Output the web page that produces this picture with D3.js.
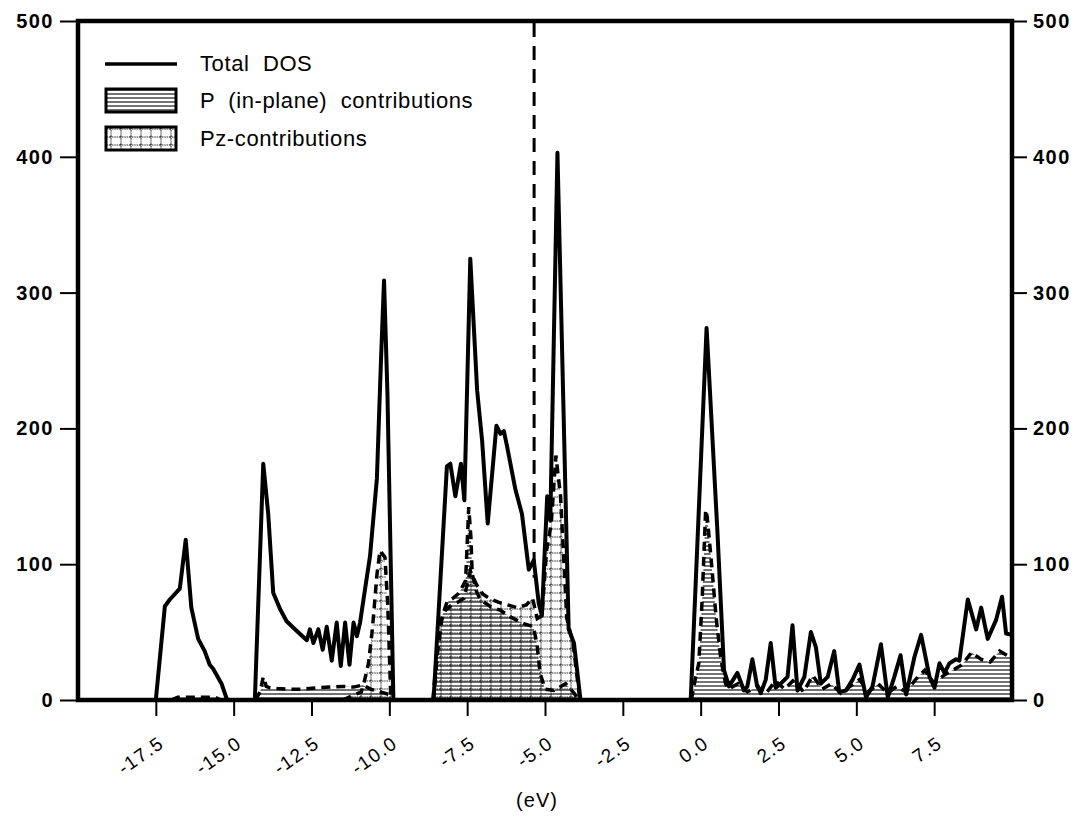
<!DOCTYPE html>
<html>
<head>
<meta charset="utf-8">
<script src="https://cdn.jsdelivr.net/npm/d3@7"></script>
<style>
  html, body { margin: 0; padding: 0; background: #fff; }
  svg { display: block; font-family: "Liberation Sans", Arial, Helvetica, sans-serif; }
</style>
</head>
<body>
<svg id="chart" width="1075" height="830"></svg>
<script>
// ---------------- data ----------------
const totalE = [-20, -17.5, -17.21, -17.05, -16.73, -16.54, -16.36, -16.14, -15.93, -15.77, -15.66, -15.39, -15.21,
  -14.32, -14.05, -13.89, -13.73, -13.51, -13.30, -12.98, -12.65, -12.55, -12.44, -12.28, -12.14, -12.01, -11.85,
  -11.69, -11.56, -11.42, -11.28, -11.15, -11.04, -10.94, -10.83, -10.62, -10.40, -10.27, -10.17, -10.06, -9.87,
  -8.58, -8.15, -8.04, -7.88, -7.70, -7.59, -7.40, -7.18, -7.02, -6.84, -6.56, -6.43, -6.32, -6.22, -5.95, -5.74,
  -5.52, -5.36, -5.20, -5.10, -4.93, -4.83, -4.60, -4.24, -4.07, -3.86,
  -0.32, 0.19, 0.54, 0.75, 0.91, 1.18, 1.39, 1.50, 1.66, 1.80, 1.93, 2.09, 2.25, 2.41, 2.57, 2.79, 2.95, 3.11,
  3.33, 3.54, 3.70, 3.86, 4.08, 4.29, 4.45, 4.67, 4.88, 5.10, 5.31, 5.52, 5.79, 6.01, 6.22, 6.42, 6.60, 6.87,
  7.08, 7.35, 7.51, 7.67, 7.83, 7.99, 8.20, 8.31, 8.58, 8.85, 9.01, 9.22, 9.49, 9.68, 9.81, 10.0];
const totalDOS = [0, 0, 69, 74, 82, 118, 68, 45, 36, 26, 23, 12, 0,
  0, 174, 137, 79, 67, 58, 51, 44, 52, 42, 52, 37, 54, 29,
  57, 25, 57, 26, 57, 47, 57, 74, 106, 163, 249, 309, 225, 0,
  0, 172, 174, 150, 174, 147, 325, 228, 191, 130, 202, 196, 198, 187, 155, 137,
  96, 103, 71, 62, 150, 132, 403, 52, 42, 0,
  0, 274, 123, 22, 10, 20, 7, 10, 30, 12, 5, 15, 42, 9, 12, 17, 55, 7,
  17, 50, 39, 12, 17, 36, 6, 7, 15, 26, 2, 10, 41, 2, 17, 33, 4, 32,
  48, 17, 9, 27, 20, 27, 30, 29, 74, 52, 68, 45, 59, 76, 49, 48];

// P (in-plane) contributions (horizontal hatch); null = gap
const pInE = [-17.0, -16.8, -16.3, -15.6, -15.4, -15.3,
  -14.3, -14.15, -14.05, -13.95, -13.84, -13.6, -13.2, -12.8, -12.3, -11.9, -11.5, -11.15, -10.85, -10.6, -10.3, -10.0, -9.9, -9.8,
  -8.58, -8.45, -8.3, -8.15, -7.95, -7.75, -7.55, -7.45, -7.38, -7.34, -7.2, -7.08, -6.77, -6.43, -6.1, -5.66, -5.37, -5.25, -5.16, -5.0, -4.72, -4.34, -4.1, -3.9, -3.8,
  -0.3, -0.15, -0.06, 0.05, 0.16, 0.21, 0.35, 0.5, 0.65, 0.8, 0.9, 1.2, 1.5, 1.8, 2.1, 2.4, 2.7, 3.0, 3.3, 3.6, 3.9,
  4.2, 4.5, 4.8, 5.1, 5.4, 5.7, 6.0, 6.3, 6.6, 6.9, 7.2, 7.5, 7.8, 8.1, 8.4, 8.7, 9.0, 9.3, 9.6, 9.9, 10.0];
const pInDOS = [0, 2, 2, 2, 0, null,
  0, 6, 17, 10, 9, 8.5, 8, 8, 9, 9.5, 10, 9.5, 11, 8, 6, 4, 0, null,
  0, 35, 62, 72, 75, 79, 88, 142, 120, 93, 80, 74, 69, 66, 61, 56, 54, 40, 20, 8, 7, 12, 6, 0, null,
  0, 18, 27, 75, 140, 135, 100, 60, 30, 12, 8, 12, 6, 10, 5, 14, 8, 15, 6, 18, 8,
  12, 5, 10, 15, 6, 12, 5, 10, 6, 15, 22, 12, 18, 22, 26, 35, 30, 28, 36, 32, 30];

// Pz contributions (grid hatch); null = gap
const pzE = [-11.5, -11.2, -10.9, -10.8, -10.67, -10.56, -10.5, -10.4, -10.3, -10.14, -10.05, -9.95, -9.9,
  -8.6, -8.4, -8.2, -8.0, -7.8, -7.6, -7.4, -7.2, -7.0, -6.8, -6.5, -6.2, -5.9, -5.6, -5.4, -5.25, -5.1,
  -4.95, -4.8, -4.65, -4.5, -4.3, -4.1, -3.88];
const pzDOS = [0, 3, 6, 14, 27, 49, 64, 92, 110, 105, 70, 0, null,
  0, 55, 66, 70, 72, 75, 95, 85, 78, 75, 72, 70, 68, 70, 75, 60, 62,
  110, 130, 180, 150, 60, 42, 0];

const fermiE = -5.35;
const xTicks = [-17.5, -15.0, -12.5, -10.0, -7.5, -5.0, -2.5, 0.0, 2.5, 5.0, 7.5];
const yTicks = [0, 100, 200, 300, 400, 500];
const legendLabels = ["Total  DOS", "P  (in-plane)  contributions", "Pz-contributions"];
const xTitle = "(eV)";

// ---------------- chart ----------------
const svg = d3.select("#chart");
const L = 78, R = 1012, T = 21, B = 700;
const x = d3.scaleLinear().domain([-20, 10]).range([L, R]);
const y = d3.scaleLinear().domain([0, 500]).range([B, T]);

const defs = svg.append("defs");
const ph = defs.append("pattern").attr("id", "hatchH").attr("patternUnits", "userSpaceOnUse")
  .attr("width", 8).attr("height", 4);
ph.append("line").attr("x1", 0).attr("x2", 8).attr("y1", 2).attr("y2", 2)
  .attr("stroke", "#000").attr("stroke-width", 1.1);
const pg = defs.append("pattern").attr("id", "grid").attr("patternUnits", "userSpaceOnUse")
  .attr("width", 10).attr("height", 8);
pg.append("line").attr("x1", 1).attr("x2", 1).attr("y1", 0).attr("y2", 8)
  .attr("stroke", "#000").attr("stroke-width", 1.1).attr("stroke-dasharray", "1.2,1");
pg.append("line").attr("x1", 0).attr("x2", 10).attr("y1", 1).attr("y2", 1)
  .attr("stroke", "#000").attr("stroke-width", 1).attr("stroke-dasharray", "1.2,1");

const totPts = totalE.map((e, i) => [e, totalDOS[i]]);
const pInPts = pInE.map((e, i) => [e, pInDOS[i]]);
const pzPts = pzE.map((e, i) => [e, pzDOS[i]]);

defs.append("clipPath").attr("id", "plotClip").append("rect")
  .attr("x", L).attr("y", T).attr("width", R - L).attr("height", B - T);
const totArea = d3.area().x(d => x(d[0])).y0(B).y1(d => y(d[1]));
defs.append("clipPath").attr("id", "totClip").append("path").attr("d", totArea(totPts));

const plot = svg.append("g").attr("clip-path", "url(#plotClip)");
const fills = plot.append("g").attr("clip-path", "url(#totClip)");

const partArea = d3.area().defined(d => d[1] !== null).x(d => x(d[0])).y0(B).y1(d => y(d[1]));
const partLine = d3.line().defined(d => d[1] !== null).x(d => x(d[0])).y(d => y(d[1]));

fills.append("path").attr("d", partArea(pInPts)).attr("fill", "url(#hatchH)");
fills.append("path").attr("d", partArea(pzPts)).attr("fill", "url(#grid)");

plot.append("path").attr("d", partLine(pInPts)).attr("fill", "none").attr("stroke", "#000")
  .attr("stroke-width", 3.5).attr("stroke-dasharray", "9,6");
plot.append("path").attr("d", partLine(pzPts)).attr("fill", "none").attr("stroke", "#000")
  .attr("stroke-width", 3.5).attr("stroke-dasharray", "9,6");

const totLine = d3.line().x(d => x(d[0])).y(d => y(d[1]));
plot.append("path").attr("d", totLine(totPts)).attr("fill", "none").attr("stroke", "#000")
  .attr("stroke-width", 4).attr("stroke-linejoin", "round");

// Fermi level
plot.append("line").attr("x1", x(fermiE)).attr("x2", x(fermiE)).attr("y1", T + 2).attr("y2", y(90))
  .attr("stroke", "#000").attr("stroke-width", 3).attr("stroke-dasharray", "14,9");

// frame
svg.append("rect").attr("x", L).attr("y", T).attr("width", R - L).attr("height", B - T)
  .attr("fill", "none").attr("stroke", "#000").attr("stroke-width", 4.5);

// axes
const yFmt = d => String(d);
const gl = svg.append("g").attr("transform", `translate(${L},0)`)
  .call(d3.axisLeft(y).tickValues(yTicks).tickFormat(yFmt).tickSize(18).tickPadding(6));
const gr = svg.append("g").attr("transform", `translate(${R},0)`)
  .call(d3.axisRight(y).tickValues(yTicks).tickFormat(yFmt).tickSize(15).tickPadding(6));
[gl, gr].forEach(g => {
  g.select(".domain").remove();
  g.selectAll(".tick line").attr("stroke", "#000").attr("stroke-width", 2);
  g.selectAll(".tick text").attr("fill", "#000").attr("font-size", 20).attr("font-weight", "bold")
    .attr("letter-spacing", 1.5).attr("font-family", "'Liberation Sans', Arial, sans-serif");
});

const gb = svg.append("g").attr("transform", `translate(0,${B})`)
  .call(d3.axisBottom(x).tickValues(xTicks).tickFormat(d => d.toFixed(1)).tickSize(16));
gb.select(".domain").remove();
gb.selectAll(".tick line").attr("stroke", "#000").attr("stroke-width", 2);
gb.selectAll(".tick text")
  .attr("fill", "#000").attr("font-size", 19).attr("letter-spacing", 1.5)
  .attr("font-family", "'Liberation Sans', Arial, sans-serif")
  .attr("text-anchor", "end").attr("dy", null).attr("y", null)
  .attr("transform", "translate(9,46) rotate(-35)");

svg.append("text").attr("x", 537).attr("y", 807).attr("text-anchor", "middle")
  .attr("font-size", 20).attr("letter-spacing", 1).text(xTitle);

// legend
const lg = svg.append("g");
lg.append("line").attr("x1", 105).attr("x2", 177).attr("y1", 64).attr("y2", 64)
  .attr("stroke", "#000").attr("stroke-width", 3.5);
lg.append("rect").attr("x", 106).attr("y", 89).attr("width", 70).attr("height", 23)
  .attr("fill", "url(#hatchH)").attr("stroke", "#000").attr("stroke-width", 3);
lg.append("rect").attr("x", 106).attr("y", 127).attr("width", 70).attr("height", 23)
  .attr("fill", "url(#grid)").attr("stroke", "#000").attr("stroke-width", 3);
const ly = [71, 108, 146];
legendLabels.forEach((t, i) => {
  lg.append("text").attr("x", 200).attr("y", ly[i]).attr("font-size", 22)
    .attr("letter-spacing", 0.6).style("white-space", "pre").text(t);
});
</script>
</body>
</html>
